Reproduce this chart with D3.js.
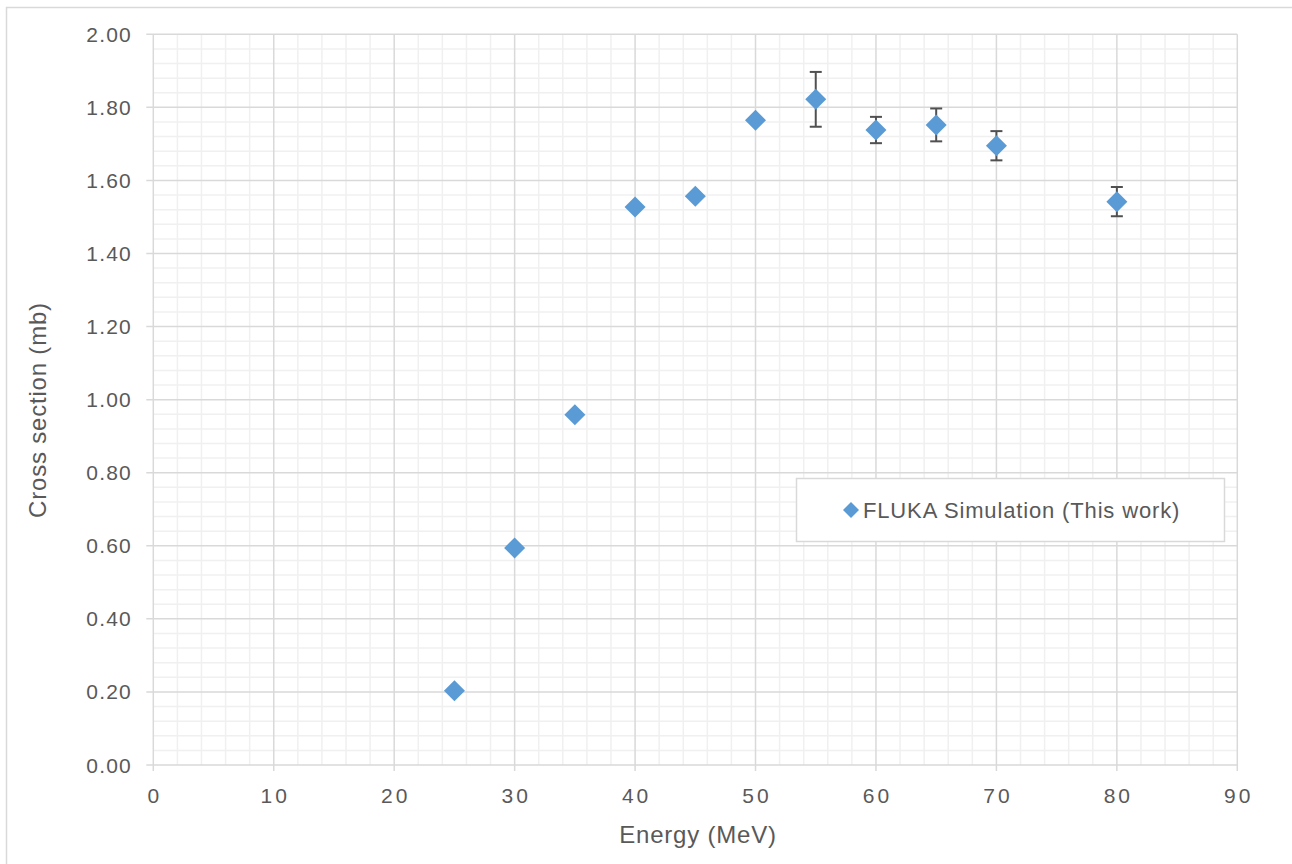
<!DOCTYPE html>
<html>
<head>
<meta charset="utf-8">
<script src="https://cdn.jsdelivr.net/npm/d3@7"></script>
<style>
  html, body { margin: 0; padding: 0; background: #fff; }
  svg { display: block; font-family: "Liberation Sans", Arial, sans-serif; }
</style>
</head>
<body>
<svg id="chart" width="1292" height="864"></svg>
<script>
// Cross section vs. proton energy, FLUKA simulation
const energy       = [25, 30, 35, 40, 45, 50, 55, 60, 65, 70, 80];
const crossSection = [0.203, 0.594, 0.959, 1.527, 1.557, 1.765, 1.822, 1.738, 1.752, 1.695, 1.542];
const errorBar     = [0, 0, 0, 0, 0, 0, 0.075, 0.036, 0.045, 0.040, 0.040];

const xTicks = [0, 10, 20, 30, 40, 50, 60, 70, 80, 90];
const yTicks = [0, 0.2, 0.4, 0.6, 0.8, 1.0, 1.2, 1.4, 1.6, 1.8, 2.0];
const seriesName = "FLUKA Simulation (This work)";
const xTitle = "Energy (MeV)";
const yTitle = "Cross section (mb)";

const svg = d3.select("#chart");
const plotL = 153.3, plotR = 1237.3, plotT = 34.3, plotB = 765;
const x = d3.scaleLinear().domain([0, 90]).range([plotL, plotR]);
const y = d3.scaleLinear().domain([0, 2]).range([plotB, plotT]);

const textColor = "#595959";
const blue = "#5B9BD5";

// outer chart frame
svg.append("rect")
  .attr("x", 6.5).attr("y", 7.5).attr("width", 1400).attr("height", 1000)
  .attr("fill", "#fff").attr("stroke", "#d9d9d9").attr("stroke-width", 1.5);

const grid = svg.append("g");

// minor gridlines
const xMinor = d3.range(0, 90.001, 2).filter(v => v % 10 !== 0);
const yMinor = d3.range(0, 2.0001, 0.04).map(v => +v.toFixed(2))
  .filter(v => Math.abs(v * 5 - Math.round(v * 5)) > 1e-6);

grid.selectAll(".vminor").data(xMinor).join("line")
  .attr("x1", d => x(d)).attr("x2", d => x(d))
  .attr("y1", plotT).attr("y2", plotB)
  .attr("stroke", "#f0f0f0").attr("stroke-width", 1.5);
grid.selectAll(".hminor").data(yMinor).join("line")
  .attr("x1", plotL).attr("x2", plotR)
  .attr("y1", d => y(d)).attr("y2", d => y(d))
  .attr("stroke", "#f0f0f0").attr("stroke-width", 1.5);

// major gridlines with outside tick marks
grid.selectAll(".vmajor").data(xTicks).join("line")
  .attr("x1", d => x(d)).attr("x2", d => x(d))
  .attr("y1", plotT).attr("y2", plotB + 6)
  .attr("stroke", "#d9d9d9").attr("stroke-width", 1.5);
grid.selectAll(".hmajor").data(yTicks).join("line")
  .attr("x1", plotL - 7).attr("x2", plotR)
  .attr("y1", d => y(d)).attr("y2", d => y(d))
  .attr("stroke", "#d9d9d9").attr("stroke-width", 1.5);

// tick labels
svg.append("g").selectAll("text").data(yTicks).join("text")
  .attr("x", 132).attr("y", d => y(d) + 7.5)
  .attr("text-anchor", "end")
  .attr("font-size", 21).attr("letter-spacing", 1.2)
  .attr("fill", textColor)
  .text(d => d3.format(".2f")(d));

svg.append("g").selectAll("text").data(xTicks).join("text")
  .attr("x", d => x(d) + 1.5).attr("y", 803)
  .attr("text-anchor", "middle")
  .attr("font-size", 21).attr("letter-spacing", 3)
  .attr("fill", textColor)
  .text(d => d);

// axis titles
svg.append("text")
  .attr("x", 698).attr("y", 843)
  .attr("text-anchor", "middle")
  .attr("font-size", 24).attr("letter-spacing", 0.8)
  .attr("fill", textColor)
  .text(xTitle);

svg.append("text")
  .attr("transform", "translate(46,410) rotate(-90)")
  .attr("text-anchor", "middle")
  .attr("font-size", 24).attr("letter-spacing", 0.8)
  .attr("fill", textColor)
  .text(yTitle);

// data
const data = energy.map((e, i) => ({ e, v: crossSection[i], err: errorBar[i] }));

const eb = svg.append("g").selectAll("g").data(data.filter(d => d.err > 0)).join("g")
  .attr("stroke", "#505050").attr("stroke-width", 2);
eb.append("line")
  .attr("x1", d => x(d.e)).attr("x2", d => x(d.e))
  .attr("y1", d => y(d.v - d.err)).attr("y2", d => y(d.v + d.err));
eb.append("line")
  .attr("x1", d => x(d.e) - 6).attr("x2", d => x(d.e) + 6)
  .attr("y1", d => y(d.v + d.err)).attr("y2", d => y(d.v + d.err));
eb.append("line")
  .attr("x1", d => x(d.e) - 6).attr("x2", d => x(d.e) + 6)
  .attr("y1", d => y(d.v - d.err)).attr("y2", d => y(d.v - d.err));

const diamond = r => `M0,${-r}L${r},0L0,${r}L${-r},0Z`;
svg.append("g").selectAll("path").data(data).join("path")
  .attr("transform", d => `translate(${x(d.e)},${y(d.v)})`)
  .attr("d", diamond(10.5))
  .attr("fill", blue);

// legend
const lg = svg.append("g");
lg.append("rect")
  .attr("x", 796.5).attr("y", 478.5).attr("width", 428).attr("height", 63)
  .attr("fill", "#fff").attr("stroke", "#d9d9d9").attr("stroke-width", 1.5);
lg.append("path")
  .attr("transform", "translate(851,510)")
  .attr("d", diamond(8))
  .attr("fill", blue);
lg.append("text")
  .attr("x", 863).attr("y", 518)
  .attr("font-size", 22).attr("letter-spacing", 0.85)
  .attr("fill", textColor)
  .text(seriesName);
</script>
</body>
</html>
